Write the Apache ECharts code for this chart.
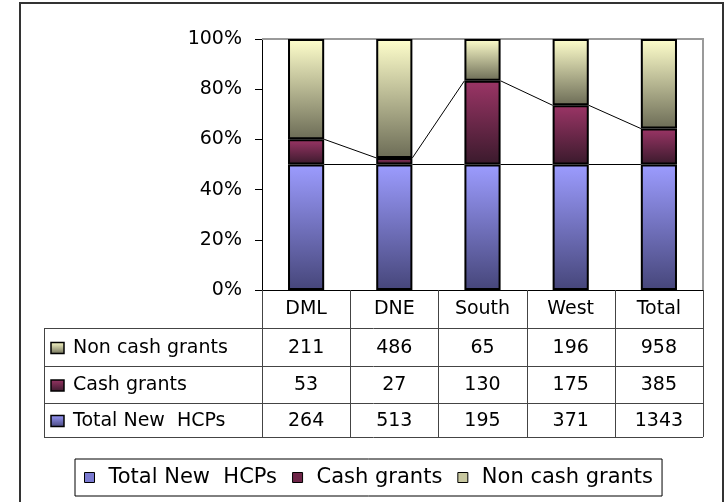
<!DOCTYPE html>
<html>
<head>
<meta charset="utf-8">
<script src="https://cdn.jsdelivr.net/npm/echarts@6/dist/echarts.min.js"></script>
<style>
  html, body { margin: 0; padding: 0; background: #fff; }
  #chart { width: 726px; height: 502px; }
</style>
</head>
<body>
<div id="chart"></div>
<script>
(function () {
    'use strict';

    var categories = ['DML', 'DNE', 'South', 'West', 'Total'];
    var newHcps = [264, 513, 195, 371, 1343];
    var cashGrants = [53, 27, 130, 175, 385];
    var nonCashGrants = [211, 486, 65, 196, 958];
    var seriesNames = ['Total New  HCPs', 'Cash grants', 'Non cash grants'];

    var FONT = '"DejaVu Sans", "Liberation Sans", Arial, sans-serif';
    var GRID = { left: 262, top: 39, right: 703, bottom: 290 };
    var ROWS = { top: 328, lines: [328, 366, 403, 437], left: 44 };

    var GRADS = {
        hcp: ['#9c9cff', '#46467a'],
        cash: ['#9b3566', '#3a1a2c'],
        non: ['#ffffcc', '#6c6c56']
    };

    function grad(c) {
        return new echarts.graphic.LinearGradient(0, 0, 0, 1, [
            { offset: 0, color: c[0] }, { offset: 1, color: c[1] }
        ]);
    }

    /** Share of each category's stacked total, in percent. */
    function pct(arr) {
        return arr.map(function (v, i) {
            return v / (newHcps[i] + cashGrants[i] + nonCashGrants[i]) * 100;
        });
    }

    var hcpPct = pct(newHcps), cashPct = pct(cashGrants), nonPct = pct(nonCashGrants);

    // Series lines join the segment tops of neighbouring bars.
    var lineData = [];
    for (var i = 0; i < categories.length - 1; i++) {
        lineData.push([i, hcpPct[i], hcpPct[i + 1]]);
        lineData.push([i, hcpPct[i] + cashPct[i], hcpPct[i + 1] + cashPct[i + 1]]);
    }

    var chart = echarts.init(document.getElementById('chart'));

    function barSeries(name, data, c) {
        return {
            name: name, type: 'bar', stack: 'all', data: data,
            barWidth: '41%', silent: true,
            itemStyle: { color: grad(c), borderColor: '#000', borderWidth: 2 }
        };
    }

    chart.setOption({
        animation: false,
        textStyle: { fontFamily: FONT },
        grid: {
            left: GRID.left, top: GRID.top,
            width: GRID.right - GRID.left, height: GRID.bottom - GRID.top
        },
        xAxis: {
            type: 'category', data: categories,
            axisLine: { lineStyle: { color: '#000', width: 1 } },
            axisTick: { show: false },
            axisLabel: { interval: 0, margin: 10, color: '#000', fontSize: 19, fontFamily: FONT }
        },
        yAxis: {
            type: 'value', min: 0, max: 100, interval: 20,
            axisLine: { show: true, lineStyle: { color: '#000', width: 1 } },
            axisTick: { show: true, length: 7, lineStyle: { color: '#000' } },
            splitLine: { show: false },
            axisLabel: { formatter: '{value}%', margin: 20, color: '#000', fontSize: 19, fontFamily: FONT }
        },
        legend: {
            data: [
                { name: seriesNames[0], itemStyle: { color: '#7a7ad0', borderColor: '#000', borderWidth: 1 } },
                { name: seriesNames[1], itemStyle: { color: '#6e2548', borderColor: '#000', borderWidth: 1 } },
                { name: seriesNames[2], itemStyle: { color: '#c8c8a0', borderColor: '#000', borderWidth: 1 } }
            ],
            left: 75, top: 459,
            padding: [8, 9], itemGap: 15, itemWidth: 10, itemHeight: 10,
            icon: 'rect', selectedMode: false,
            borderColor: '#000', borderWidth: 1,
            textStyle: { fontSize: 21, color: '#000', fontFamily: FONT, padding: [0, 0, 0, 9] }
        },
        series: [
            barSeries(seriesNames[0], hcpPct, GRADS.hcp),
            barSeries(seriesNames[1], cashPct, GRADS.cash),
            barSeries(seriesNames[2], nonPct, GRADS.non),
            {
                type: 'custom', silent: true, z: 3,
                data: lineData,
                encode: { x: 0, y: 1 },
                renderItem: function (params, api) {
                    var idx = api.value(0);
                    var half = api.size([1, 0])[0] * 0.41 / 2;
                    var p1 = api.coord([idx, api.value(1)]);
                    var p2 = api.coord([idx + 1, api.value(2)]);
                    return {
                        type: 'line',
                        shape: { x1: p1[0] + half, y1: p1[1], x2: p2[0] - half, y2: p2[1] },
                        style: { stroke: '#000', lineWidth: 1 }
                    };
                }
            }
        ]
    });

    /* -- Frame, plot-area border and data table -- */
    var g = [];
    g.push({ type: 'rect', shape: { x: 20, y: 3, width: 703, height: 520 },
        style: { fill: null, stroke: '#333', lineWidth: 2 }, z: 0 });
    g.push({ type: 'polyline', shape: { points: [[GRID.left, GRID.top], [GRID.right, GRID.top], [GRID.right, GRID.bottom]] },
        style: { fill: null, stroke: '#9a9a9a', lineWidth: 2 }, z: 1 });

    ROWS.lines.forEach(function (y) {
        g.push({ type: 'line', shape: { x1: ROWS.left, y1: y + 0.5, x2: GRID.right, y2: y + 0.5 },
            style: { stroke: '#444', lineWidth: 1 }, z: 1 });
    });
    g.push({ type: 'line', shape: { x1: ROWS.left + 0.5, y1: ROWS.top, x2: ROWS.left + 0.5, y2: ROWS.lines[3] },
        style: { stroke: '#444', lineWidth: 1 }, z: 1 });

    // Column borders of the data table, at the category band edges.
    var band = (GRID.right - GRID.left) / categories.length;
    for (var k = 0; k <= categories.length; k++) {
        var bx = Math.round(GRID.left + k * band) + 0.5;
        g.push({ type: 'line', shape: { x1: bx, y1: GRID.bottom, x2: bx, y2: ROWS.lines[3] },
            style: { stroke: '#444', lineWidth: 1 }, z: 1 });
    }

    var tableRows = [
        { name: seriesNames[2], values: nonCashGrants, c: GRADS.non },
        { name: seriesNames[1], values: cashGrants, c: GRADS.cash },
        { name: seriesNames[0], values: newHcps, c: GRADS.hcp }
    ];
    tableRows.forEach(function (row, r) {
        var yc = (ROWS.lines[r] + ROWS.lines[r + 1]) / 2 + 1;
        g.push({ type: 'rect', shape: { x: 51, y: yc - 5.5, width: 13, height: 11 },
            style: { fill: grad(row.c), stroke: '#000', lineWidth: 1.5 }, z: 2 });
        g.push({ type: 'text', x: 73, y: yc, z: 2,
            style: { text: row.name, fontSize: 19, fontFamily: FONT, fill: '#000', verticalAlign: 'middle' } });
        row.values.forEach(function (v, ci) {
            var x = chart.convertToPixel({ xAxisIndex: 0 }, ci);
            g.push({ type: 'text', x: x, y: yc, z: 2,
                style: { text: String(v), fontSize: 19, fontFamily: FONT, fill: '#000', align: 'center', verticalAlign: 'middle' } });
        });
    });

    chart.setOption({ graphic: g });
})();
</script>
</body>
</html>
